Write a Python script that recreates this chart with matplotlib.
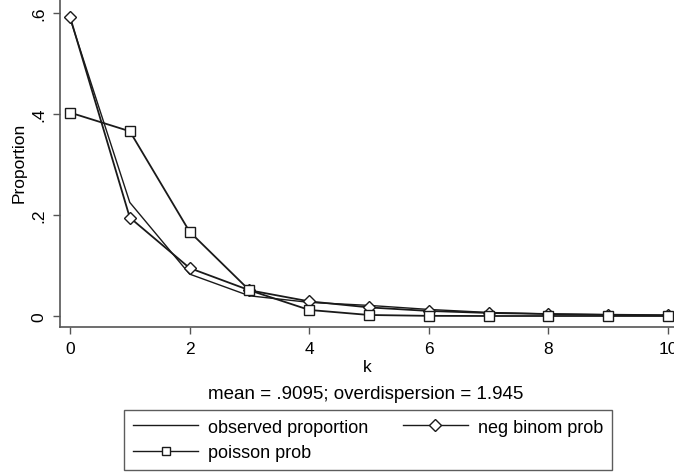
import matplotlib.pyplot as plt
from matplotlib.lines import Line2D

plt.rcParams['font.family'] = ['Liberation Sans', 'DejaVu Sans']

k = [0, 1, 2, 3, 4, 5, 6, 7, 8, 9, 10]
observed = [0.590, 0.225, 0.083, 0.040, 0.027, 0.021, 0.013, 0.007, 0.004, 0.003, 0.002]
negbin = [0.593, 0.195, 0.095, 0.051, 0.029, 0.017, 0.010, 0.006, 0.004, 0.002, 0.001]
poisson = [0.403, 0.366, 0.167, 0.051, 0.012, 0.002, 0.0003, 0.0, 0.0, 0.0, 0.0]

xticks = [0, 2, 4, 6, 8, 10]
yticks = [0, 0.2, 0.4, 0.6]
ytick_labels = ["0", ".2", ".4", ".6"]

W, H = 674, 477
fig = plt.figure(figsize=(W / 100, H / 100), dpi=100)
ax = fig.add_axes([60 / W, 1 - 328 / H, (W - 60) / W, 328 / H])

lc = "#1a1a1a"
ax.plot(k, observed, color=lc, linewidth=1.0)
ax.plot(k, negbin, color=lc, linewidth=1.3, marker="D", markersize=6.5,
        markerfacecolor="white", markeredgecolor=lc, markeredgewidth=1.0)
ax.plot(k, poisson, color=lc, linewidth=1.3, marker="s", markersize=7,
        markerfacecolor="white", markeredgecolor=lc, markeredgewidth=1.0)

ax.set_xlim(-0.167, 10.1)
ax.set_ylim(-0.0218, 0.628)
ax.set_xticks(xticks)
ax.set_yticks(yticks)
ax.set_yticklabels(ytick_labels, rotation=90, va="center")
ax.tick_params(axis="both", labelsize=12.5, length=5, width=1, color="#555555",
               direction="out", pad=5)
for s in ["top", "right"]:
    ax.spines[s].set_visible(False)
for s in ["left", "bottom"]:
    ax.spines[s].set_color("#555555")
    ax.spines[s].set_linewidth(1.2)

ax.set_ylabel("Proportion", fontsize=12.5)
ax.yaxis.set_label_coords((19 - 60) / (W - 60), 1 - 163 / 328)
ax.yaxis.label.set_va("center")
ax.set_xlabel("k", fontsize=12.5)
ax.xaxis.set_label_coords(0.5, -(368 - 328) / 328)
ax.xaxis.label.set_va("center")
fig.text(366 / W, 1 - 395 / H, "mean = .9095; overdispersion = 1.945",
         ha="center", va="center", fontsize=13.5)

h_obs = Line2D([], [], color=lc, linewidth=1.0)
h_nb = Line2D([], [], color=lc, linewidth=1.0, marker="D", markersize=6,
              markerfacecolor="white", markeredgecolor=lc)
h_po = Line2D([], [], color=lc, linewidth=1.0, marker="s", markersize=6,
              markerfacecolor="white", markeredgecolor=lc)
leg = fig.legend([h_obs, h_po, h_nb], ["observed proportion", "poisson prob", "neg binom prob"],
                 ncol=2, loc="center", bbox_to_anchor=(368 / W, 1 - 441 / H),
                 fontsize=13, frameon=True, fancybox=False, handlelength=3.6,
                 handletextpad=0.55, columnspacing=1.9, labelspacing=0.47,
                 borderpad=0.5, borderaxespad=0)
leg.get_frame().set_edgecolor("#333333")
leg.get_frame().set_linewidth(1.0)

fig.savefig("out.png", dpi=100)
